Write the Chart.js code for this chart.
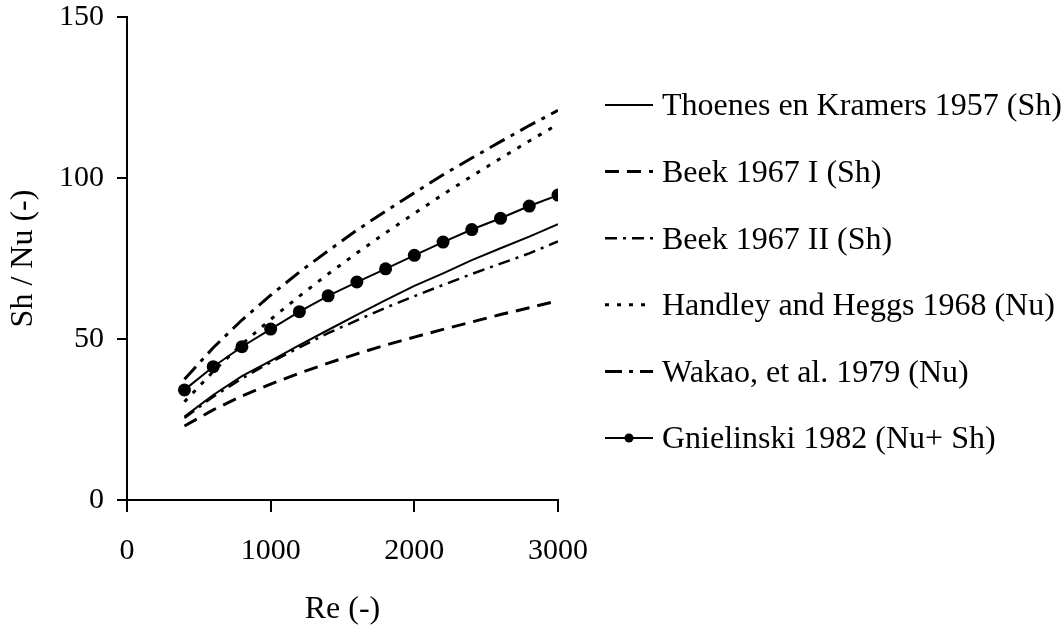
<!DOCTYPE html>
<html>
<head>
<meta charset="utf-8">
<script src="https://cdn.jsdelivr.net/npm/chart.js@4.4.1/dist/chart.umd.min.js"></script>
<style>
  html, body { margin: 0; padding: 0; background: #fff; }
  #wrap { width: 1062px; height: 626px; }
</style>
</head>
<body>
<div id="wrap"><canvas id="chart" width="1062" height="626"></canvas></div>
<script>
// Re values where the curves are sampled
const reValues = [400, 600, 800, 1000, 1200, 1400, 1600, 1800, 2000, 2200, 2400, 2600, 2800, 3000];

// Sh / Nu
const thoenes  = [25.9, 32.6, 38.5, 43.2, 48.1, 52.8, 57.5, 62.1, 66.5, 70.4, 74.5, 78.2, 81.8, 85.7];
const beekI    = [23.0, 28.0, 32.3, 36.0, 39.4, 42.5, 45.4, 48.1, 50.6, 53.0, 55.3, 57.6, 59.7, 61.9];
const beekII   = [25.5, 32.1, 37.7, 42.8, 47.4, 51.8, 55.8, 59.7, 63.3, 66.8, 70.2, 73.4, 76.6, 80.3];
const handley  = [30.5, 39.9, 48.4, 56.1, 63.3, 70.2, 76.7, 83.0, 89.0, 94.9, 100.6, 106.1, 111.5, 116.7];
const wakao    = [37.5, 47.3, 55.9, 63.6, 70.8, 77.4, 83.8, 89.7, 95.4, 101.0, 106.2, 111.3, 116.3, 121.0];
const gnielinski = [34.2, 41.4, 47.6, 53.1, 58.5, 63.4, 67.7, 71.8, 76.0, 80.1, 84.0, 87.5, 91.3, 94.7];

const seriesNames = [
  'Thoenes en Kramers 1957 (Sh)',
  'Beek 1967 I (Sh)',
  'Beek 1967 II (Sh)',
  'Handley and Heggs 1968 (Nu)',
  'Wakao, et al. 1979 (Nu)',
  'Gnielinski 1982 (Nu+ Sh)'
];

const xTicks = [0, 1000, 2000, 3000];
const yTicks = [0, 50, 100, 150];

const SERIF = '"Liberation Serif", "Times New Roman", serif';
const xTickFont = { family: SERIF, size: 30, lineHeight: 1.13 };
// small line height keeps the top label from pushing the plot down
const yTickFont = { family: SERIF, size: 30, lineHeight: 0.27 };
const titleFont = { family: SERIF, size: 32, lineHeight: 1 };
const legendSize = 32;

const pts = arr => arr.map((v, i) => ({ x: reValues[i], y: v }));

const styles = [
  { borderWidth: 2, borderDash: [] },
  { borderWidth: 3, borderDash: [14, 8] },
  { borderWidth: 2.5, borderDash: [12, 6, 3, 6] },
  { borderWidth: 3, borderDash: [4, 8] },
  { borderWidth: 3, borderDash: [17, 7, 4, 7] },
  { borderWidth: 2, borderDash: [], pointRadius: 6.5 }
];

const allSeries = [thoenes, beekI, beekII, handley, wakao, gnielinski];

const datasets = allSeries.map((s, i) => ({
  label: seriesNames[i],
  data: pts(s),
  borderColor: '#000',
  backgroundColor: '#000',
  borderWidth: styles[i].borderWidth,
  borderDash: styles[i].borderDash,
  pointRadius: styles[i].pointRadius || 0,
  pointBackgroundColor: '#000',
  pointBorderWidth: 0,
  tension: 0,
  fill: false
}));

// legend drawn by hand so the dash patterns look like the original
const sideLegend = {
  id: 'sideLegend',
  afterDraw(chart) {
    const ctx = chart.ctx;
    const x0 = 605, x1 = 653, tx = 662;
    const y0 = 105, dy = 66.6;
    ctx.save();
    chart.data.datasets.forEach((ds, i) => {
      const y = y0 + i * dy;
      ctx.strokeStyle = '#000';
      ctx.lineWidth = ds.borderWidth;
      ctx.setLineDash(ds.borderDash || []);
      ctx.beginPath();
      ctx.moveTo(x0, y);
      ctx.lineTo(x1, y);
      ctx.stroke();
      if (ds.pointRadius) {
        ctx.setLineDash([]);
        ctx.fillStyle = '#000';
        ctx.beginPath();
        ctx.arc((x0 + x1) / 2, y, 4.5, 0, Math.PI * 2);
        ctx.fill();
      }
      ctx.setLineDash([]);
      ctx.fillStyle = '#000';
      ctx.font = legendSize + 'px ' + SERIF;
      ctx.textBaseline = 'middle';
      ctx.textAlign = 'left';
      ctx.fillText(ds.label, tx, y + 2);
    });
    ctx.restore();
  }
};

new Chart(document.getElementById('chart').getContext('2d'), {
  type: 'line',
  data: { datasets: datasets },
  plugins: [sideLegend],
  options: {
    responsive: false,
    animation: false,
    layout: { padding: { left: 8, top: 0, right: 504, bottom: 0 } },
    plugins: {
      legend: { display: false },
      tooltip: { enabled: false }
    },
    scales: {
      x: {
        type: 'linear',
        min: 0,
        max: 3000,
        afterBuildTicks: s => { s.ticks = xTicks.map(v => ({ value: v })); },
        afterFit: s => { s.height = 126; },
        ticks: {
          color: '#000',
          font: xTickFont,
          padding: 22,
          maxRotation: 0,
          callback: v => String(v)
        },
        grid: { drawOnChartArea: false, color: '#000', tickLength: 12, lineWidth: 2 },
        border: { color: '#000', width: 2 },
        title: { display: true, text: 'Re (-)', color: '#000', font: titleFont, padding: { top: 0, bottom: 0 } }
      },
      y: {
        min: 0,
        max: 150,
        afterBuildTicks: s => { s.ticks = yTicks.map(v => ({ value: v })); },
        afterFit: s => { s.width = 119; },
        ticks: {
          color: '#000',
          font: yTickFont,
          padding: 13,
          callback: v => String(v)
        },
        grid: { drawOnChartArea: false, color: '#000', tickLength: 10, lineWidth: 2 },
        border: { color: '#000', width: 2 },
        title: { display: true, text: 'Sh / Nu (-)', color: '#000', font: titleFont, padding: 0 }
      }
    }
  }
});
</script>
</body>
</html>
